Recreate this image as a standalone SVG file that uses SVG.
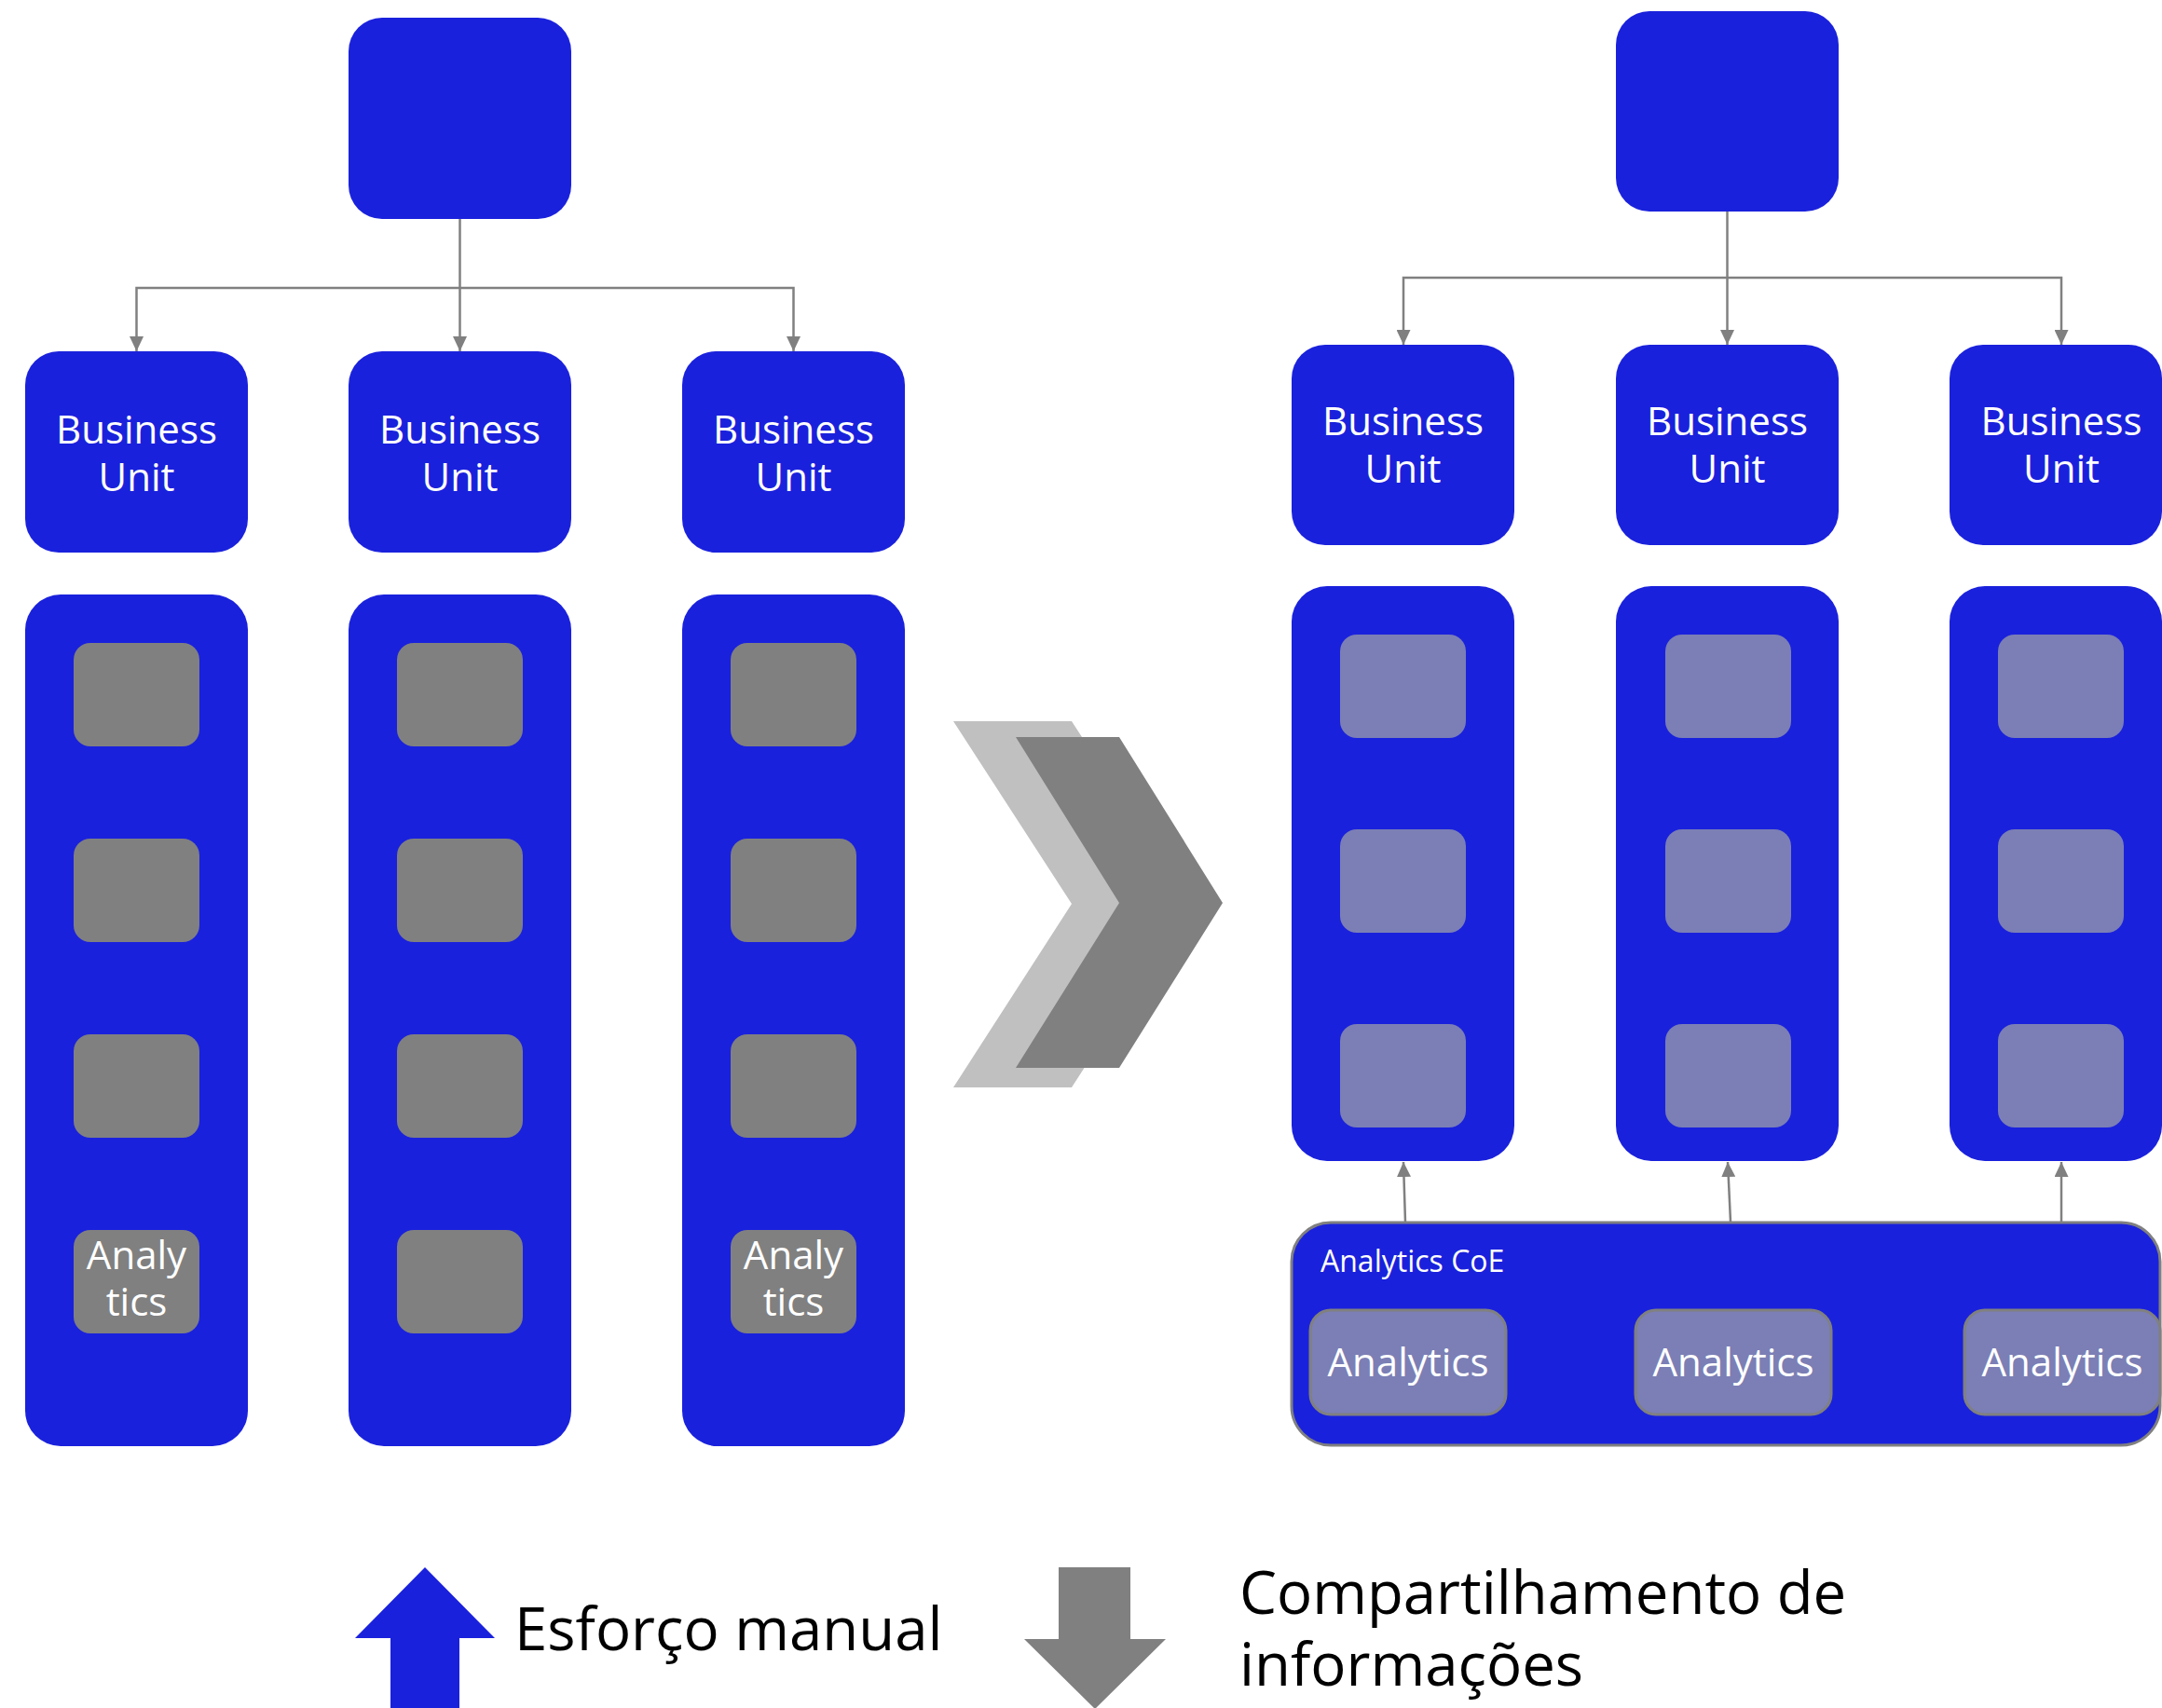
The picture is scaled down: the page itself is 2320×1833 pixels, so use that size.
<svg xmlns="http://www.w3.org/2000/svg" width="2320" height="1833" viewBox="0 0 2320 1833">
  <style>
    .blue { fill: #1a21dc; }
    .sq { fill: #808080; }
    .psq { fill: #7b7fb5; }
    .abox { fill: #7b7fb5; stroke: #808080; stroke-width: 3; }
    .coe { fill: #1a21dc; stroke: #808080; stroke-width: 3; }
    .wt { fill: #ffffff; font-family: "Open Sans", "Noto Sans", "Liberation Sans", sans-serif; font-size: 42px; text-anchor: middle; }
    .coet { fill: #ffffff; font-family: "Open Sans", "Noto Sans", "Liberation Sans", sans-serif; font-size: 32px; }
    .lg { fill: #000000; font-family: "Open Sans", "Noto Sans", "Liberation Sans", sans-serif; font-size: 63.5px; }
    .conn { fill: none; stroke: #808080; stroke-width: 2.5; }
  </style>
  <defs>
    <marker id="ah" markerUnits="userSpaceOnUse" markerWidth="16" markerHeight="15" refX="16" refY="7.5" orient="auto">
      <path d="M0,0 L16,7.5 L0,15 z" fill="#808080"/>
    </marker>
  </defs>
  <rect width="2320" height="1833" fill="#ffffff"/>

  <!-- LEFT SIDE -->
  <g id="left-top"><rect class="blue" x="374" y="19" width="239" height="216" rx="36"/></g>
  <g id="left-bu1"><rect class="blue" x="27" y="377" width="239" height="216" rx="36"/>
    <text class="wt"><tspan x="146.5" y="476">Business</tspan><tspan x="146.5" y="527">Unit</tspan></text></g>
  <g id="left-bu2"><rect class="blue" x="374" y="377" width="239" height="216" rx="36"/>
    <text class="wt"><tspan x="493.5" y="476">Business</tspan><tspan x="493.5" y="527">Unit</tspan></text></g>
  <g id="left-bu3"><rect class="blue" x="732" y="377" width="239" height="216" rx="36"/>
    <text class="wt"><tspan x="851.5" y="476">Business</tspan><tspan x="851.5" y="527">Unit</tspan></text></g>

  <g id="left-col1">
    <rect class="blue" x="27" y="638" width="239" height="914" rx="38"/>
    <rect class="sq" x="79" y="690" width="135" height="111" rx="18"/>
    <rect class="sq" x="79" y="900" width="135" height="111" rx="18"/>
    <rect class="sq" x="79" y="1110" width="135" height="111" rx="18"/>
    <rect class="sq" x="79" y="1320" width="135" height="111" rx="18"/>
    <text class="wt"><tspan x="146.5" y="1362">Analy</tspan><tspan x="146.5" y="1412">tics</tspan></text>
  </g>
  <g id="left-col2">
    <rect class="blue" x="374" y="638" width="239" height="914" rx="38"/>
    <rect class="sq" x="426" y="690" width="135" height="111" rx="18"/>
    <rect class="sq" x="426" y="900" width="135" height="111" rx="18"/>
    <rect class="sq" x="426" y="1110" width="135" height="111" rx="18"/>
    <rect class="sq" x="426" y="1320" width="135" height="111" rx="18"/>
  </g>
  <g id="left-col3">
    <rect class="blue" x="732" y="638" width="239" height="914" rx="38"/>
    <rect class="sq" x="784" y="690" width="135" height="111" rx="18"/>
    <rect class="sq" x="784" y="900" width="135" height="111" rx="18"/>
    <rect class="sq" x="784" y="1110" width="135" height="111" rx="18"/>
    <rect class="sq" x="784" y="1320" width="135" height="111" rx="18"/>
    <text class="wt"><tspan x="851.5" y="1362">Analy</tspan><tspan x="851.5" y="1412">tics</tspan></text>
  </g>

  <!-- CHEVRON -->
  <g id="chevron">
    <polygon fill="#c0c0c0" points="1023,774 1150,774 1277,970 1150,1167 1023,1167 1150,970"/>
    <polygon fill="#808080" points="1090,791 1201,791 1312,969 1201,1146 1090,1146 1201,969"/>
  </g>

  <!-- RIGHT SIDE -->
  <g id="right-top"><rect class="blue" x="1734" y="12" width="239" height="215" rx="36"/></g>
  <g id="right-bu1"><rect class="blue" x="1386" y="370" width="239" height="215" rx="36"/>
    <text class="wt"><tspan x="1505.5" y="467">Business</tspan><tspan x="1505.5" y="518">Unit</tspan></text></g>
  <g id="right-bu2"><rect class="blue" x="1734" y="370" width="239" height="215" rx="36"/>
    <text class="wt"><tspan x="1853.5" y="467">Business</tspan><tspan x="1853.5" y="518">Unit</tspan></text></g>
  <g id="right-bu3"><rect class="blue" x="2092" y="370" width="228" height="215" rx="36"/>
    <text class="wt"><tspan x="2212" y="467">Business</tspan><tspan x="2212" y="518">Unit</tspan></text></g>

  <g id="right-col1">
    <rect class="blue" x="1386" y="629" width="239" height="617" rx="38"/>
    <rect class="psq" x="1438" y="681" width="135" height="111" rx="18"/>
    <rect class="psq" x="1438" y="890" width="135" height="111" rx="18"/>
    <rect class="psq" x="1438" y="1099" width="135" height="111" rx="18"/>
  </g>
  <g id="right-col2">
    <rect class="blue" x="1734" y="629" width="239" height="617" rx="38"/>
    <rect class="psq" x="1787" y="681" width="135" height="111" rx="18"/>
    <rect class="psq" x="1787" y="890" width="135" height="111" rx="18"/>
    <rect class="psq" x="1787" y="1099" width="135" height="111" rx="18"/>
  </g>
  <g id="right-col3">
    <rect class="blue" x="2092" y="629" width="228" height="617" rx="38"/>
    <rect class="psq" x="2144" y="681" width="135" height="111" rx="18"/>
    <rect class="psq" x="2144" y="890" width="135" height="111" rx="18"/>
    <rect class="psq" x="2144" y="1099" width="135" height="111" rx="18"/>
  </g>

  <g id="coe">
    <rect class="coe" x="1386" y="1312" width="932" height="239" rx="42"/>
    <text class="coet" x="1417" y="1365">Analytics CoE</text>
    <rect class="abox" x="1406" y="1406" width="210" height="112" rx="22"/>
    <text class="wt" x="1511" y="1477">Analytics</text>
    <rect class="abox" x="1755" y="1406" width="210" height="112" rx="22"/>
    <text class="wt" x="1860" y="1477">Analytics</text>
    <rect class="abox" x="2108" y="1406" width="210" height="112" rx="22"/>
    <text class="wt" x="2213" y="1477">Analytics</text>
  </g>

  <!-- CONNECTORS -->
  <g id="connectors">
    <path class="conn" d="M493.5,235 V377" marker-end="url(#ah)"/>
    <path class="conn" d="M493.5,309 H146.5 V377" marker-end="url(#ah)"/>
    <path class="conn" d="M493.5,309 H851.5 V377" marker-end="url(#ah)"/>
    <path class="conn" d="M1853.5,227 V370" marker-end="url(#ah)"/>
    <path class="conn" d="M1853.5,298 H1506 V370" marker-end="url(#ah)"/>
    <path class="conn" d="M1853.5,298 H2212 V370" marker-end="url(#ah)"/>
    <path class="conn" d="M1508,1311 L1506,1247" marker-end="url(#ah)"/>
    <path class="conn" d="M1857,1311 L1854,1247" marker-end="url(#ah)"/>
    <path class="conn" d="M2212,1311 L2212,1247" marker-end="url(#ah)"/>
  </g>

  <!-- LEGEND -->
  <g id="legend-manual">
    <polygon fill="#1a21dc" points="456,1682 531,1758 493,1758 493,1833 419,1833 419,1758 381,1758"/>
    <text class="lg" x="552" y="1771">Esforço manual</text>
  </g>
  <g id="legend-sharing">
    <polygon fill="#808080" points="1136,1682 1213,1682 1213,1759 1251,1759 1175,1834 1099,1759 1136,1759"/>
    <text class="lg"><tspan x="1330" y="1732">Compartilhamento de</tspan><tspan x="1330" y="1809">informações</tspan></text>
  </g>
</svg>
